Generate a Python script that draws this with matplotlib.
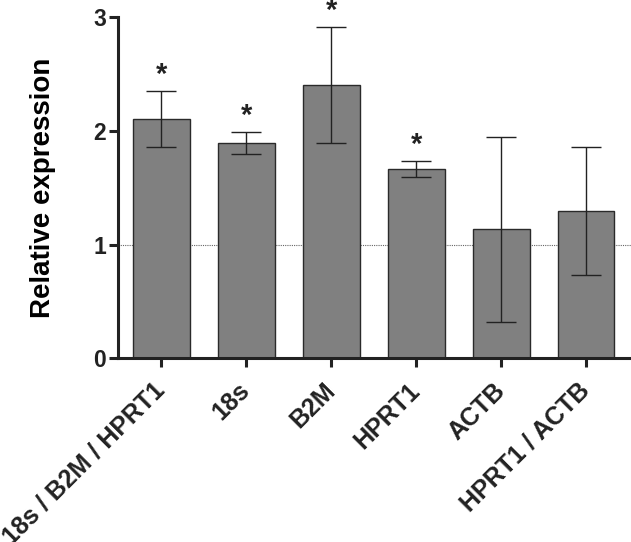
import numpy as np
import matplotlib.pyplot as plt

plt.rcParams['font.family'] = ['Liberation Sans', 'DejaVu Sans']

# data
genes = ["18s / B2M / HPRT1", "18s", "B2M", "HPRT1", "ACTB", "HPRT1 / ACTB"]
means = [2.105, 1.894, 2.404, 1.665, 1.135, 1.296]
err_hi = [2.35, 1.993, 2.917, 1.735, 1.946, 1.861]
err_lo = [1.855, 1.794, 1.897, 1.595, 0.319, 0.733]
signif = [True, True, True, True, False, False]

means = np.array(means)
yerr = np.vstack([means - np.array(err_lo), np.array(err_hi) - means])
x = np.arange(len(genes))

fig = plt.figure(figsize=(6.31, 5.42), dpi=100)
ax = fig.add_axes([0.187, 0.339, 0.813, 0.629])

ax.axhline(1, color="#666666", lw=0.8, ls=(0, (1, 1)), zorder=0)
ax.bar(x, means, width=0.67, color="#808080", edgecolor="#2a2a2a", linewidth=1.0, zorder=2)
ax.errorbar(x, means, yerr=yerr, fmt="none", ecolor="#222222", elinewidth=1.0,
            capsize=10.5, capthick=1.0, zorder=3)

# significance stars
for xi, top, s in zip(x, err_hi, signif):
    if s:
        ax.text(xi, top + 0.14, "*", ha="center", va="center", fontsize=21,
                fontweight="bold", color="#222222", clip_on=False)

ax.set_xlim(-0.51, 5.53)
ax.set_ylim(0, 3)
ax.set_yticks([0, 1, 2, 3])
ax.set_xticks(x)
ax.set_xticklabels(genes, rotation=45, ha="right", va="center", rotation_mode="anchor",
                   fontsize=18, fontweight="bold")
for lab in ax.get_yticklabels():
    lab.set_fontsize(16.5)
    lab.set_fontweight("bold")
ax.set_ylabel("Relative expression", fontsize=20, fontweight="bold", labelpad=27)

for side in ["top", "right"]:
    ax.spines[side].set_visible(False)
for side in ["left", "bottom"]:
    ax.spines[side].set_linewidth(2.2)
    ax.spines[side].set_color("#222222")
ax.tick_params(axis="both", length=6.5, width=2.2, color="#222222", labelcolor="#222222")
ax.tick_params(axis="y", pad=2)
ax.tick_params(axis="x", pad=14)

fig.savefig("out.png", dpi=100)
